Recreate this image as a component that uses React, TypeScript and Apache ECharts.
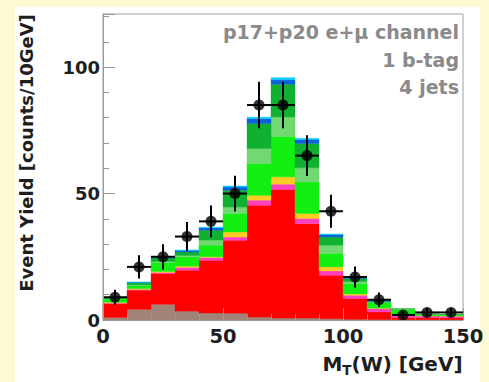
import React, { useEffect, useRef } from "react";
import * as echarts from "echarts";

const binCenters = [5, 15, 25, 35, 45, 55, 65, 75, 85, 95, 105, 115, 125, 135, 145];
const binWidth = 10;

const grayLayer = [1.0, 4.2, 6.2, 3.5, 2.8, 2.7, 1.2, 0.8, 0.8, 0.5, 0.3, 0.2, 0.1, 0.1, 0.1];
const redLayer = [5.5, 7.6, 12.2, 16.2, 20.8, 28.8, 44.2, 50.8, 37.3, 17.2, 8.2, 3.0, 0.9, 0.9, 0.8];
const pinkLayer = [0.2, 0.3, 0.4, 1.1, 1.1, 1.3, 2.0, 2.1, 2.0, 1.7, 1.3, 1.3, 0.9, 0.6, 0.6];
const yellowLayer = [0.3, 0.3, 0.4, 0.5, 0.3, 2.0, 1.9, 2.9, 2.0, 1.6, 0.5, 0.2, 0.2, 0.1, 0.1];
const brightGreenLayer = [1.3, 1.3, 3.5, 3.7, 4.6, 7.3, 12.6, 16.0, 12.5, 5.3, 4.1, 2.2, 2.0, 0.5, 0.4];
const paleGreenLayer = [0.2, 0.2, 0.4, 0.5, 2.0, 2.6, 5.9, 7.7, 5.6, 3.3, 0.8, 0.2, 0.2, 0.1, 0.1];
const darkGreenLayer = [0.3, 0.9, 1.4, 1.4, 3.9, 6.6, 9.9, 12.9, 9.6, 3.2, 1.2, 0.3, 0.2, 0.1, 0.1];
const blueLayer = [0.1, 0.1, 0.2, 0.6, 0.9, 1.3, 1.9, 1.8, 1.6, 1.0, 0.2, 0.1, 0.0, 0.0, 0.0];
const cyanLayer = [0.1, 0.1, 0.1, 0.2, 0.3, 0.4, 0.6, 0.8, 0.4, 0.2, 0.1, 0.0, 0.0, 0.0, 0.0];

const dataCounts = [9, 21, 25, 33, 39, 50, 85, 85, 65, 43, 17, 8, 2, 3, 3];

const xTickLabels = [0, 50, 100, 150];
const yTickLabels = [0, 50, 100];

const infoLines = ["p17+p20 e+\u03bc channel", "1 b-tag", "4 jets"];

const layers = [
  { name: "gray", values: grayLayer, color: "#a08478" },
  { name: "red", values: redLayer, color: "#ff0000" },
  { name: "pink", values: pinkLayer, color: "#ff3fbf" },
  { name: "yellow", values: yellowLayer, color: "#ffcc22" },
  { name: "brightGreen", values: brightGreenLayer, color: "#11f011" },
  { name: "paleGreen", values: paleGreenLayer, color: "#72d872" },
  { name: "darkGreen", values: darkGreenLayer, color: "#10b030" },
  { name: "blue", values: blueLayer, color: "#0a64d8" },
  { name: "cyan", values: cyanLayer, color: "#00ccff" },
];

const FONT = "DejaVu Sans";

export default function App() {
  const ref = useRef<HTMLDivElement>(null);
  useEffect(() => {
    if (!ref.current) return;
    const chart = echarts.init(ref.current, undefined, { renderer: "svg" });
    const cumulative = binCenters.map(() => 0);
    const layerSeries = layers.map((layer) => {
      const data = binCenters.map((c, i) => {
        const y0 = cumulative[i];
        const y1 = y0 + layer.values[i];
        cumulative[i] = y1;
        return [c - binWidth / 2, c + binWidth / 2, y0, y1];
      });
      return {
        type: "custom",
        name: layer.name,
        xAxisIndex: 0,
        yAxisIndex: 0,
        z: 2,
        encode: { x: [0, 1], y: [2, 3] },
        data,
        renderItem: (params: any, api: any) => {
          const x0 = api.value(0);
          const x1 = api.value(1);
          const y0 = api.value(2);
          const y1 = api.value(3);
          if (y1 - y0 <= 0) return null;
          const p0 = api.coord([x0, y1]);
          const p1 = api.coord([x1, y0]);
          return {
            type: "rect",
            shape: { x: p0[0], y: p0[1], width: p1[0] - p0[0], height: p1[1] - p0[1] },
            style: { fill: layer.color, stroke: layer.color, lineWidth: 0.4 },
          };
        },
      };
    });

    const errData = binCenters.map((c, i) => [c, dataCounts[i], Math.sqrt(dataCounts[i])]);

    const tickFmt = (list: number[]) => (v: number) => (list.indexOf(v) >= 0 ? String(v) : "");

    const option: any = {
      animation: false,
      grid: {
        left: 103,
        top: 14,
        width: 360,
        height: 306,
        show: true,
        borderColor: "#a0a0a0",
        borderWidth: 1,
        backgroundColor: "transparent",
      },
      xAxis: [
        {
          type: "value",
          min: 0,
          max: 150,
          interval: 10,
          position: "bottom",
          z: 10,
          axisLine: { show: true, lineStyle: { color: "#999", width: 1 } },
          axisTick: { show: true, inside: true, length: 6, lineStyle: { color: "#999" } },
          axisLabel: {
            formatter: tickFmt(xTickLabels),
            fontSize: 19.5,
            fontWeight: "bold",
            fontFamily: FONT,
            color: "#1e1e1e",
            margin: 6,
          },
          splitLine: { show: false },
        },
        {
          type: "value",
          min: 0,
          max: 150,
          interval: 50,
          position: "bottom",
          z: 10,
          axisLine: { show: false },
          axisTick: { show: true, inside: true, length: 12, lineStyle: { color: "#999" } },
          axisLabel: { show: false },
          splitLine: { show: false },
        },
      ],
      yAxis: [
        {
          type: "value",
          min: 0,
          max: 121,
          interval: 10,
          position: "left",
          z: 10,
          axisLine: { show: true, lineStyle: { color: "#999", width: 1 } },
          axisTick: { show: true, inside: true, length: 6, lineStyle: { color: "#999" } },
          axisLabel: {
            formatter: tickFmt(yTickLabels),
            fontSize: 18,
            fontWeight: "bold",
            fontFamily: FONT,
            color: "#1e1e1e",
            margin: 3,
          },
          splitLine: { show: false },
        },
        {
          type: "value",
          min: 0,
          max: 121,
          interval: 50,
          position: "left",
          z: 10,
          axisLine: { show: false },
          axisTick: { show: true, inside: true, length: 12, lineStyle: { color: "#999" } },
          axisLabel: { show: false },
          splitLine: { show: false },
        },
      ],
      series: [
        ...layerSeries,
        {
          type: "custom",
          name: "errors",
          xAxisIndex: 0,
          yAxisIndex: 0,
          z: 5,
          data: errData,
          encode: { x: 0, y: 1 },
          renderItem: (params: any, api: any) => {
            const x = api.value(0);
            const y = api.value(1);
            const e = api.value(2);
            const top = api.coord([x, y + e]);
            const bot = api.coord([x, Math.max(0, y - e)]);
            const l = api.coord([x - binWidth / 2, y]);
            const r = api.coord([x + binWidth / 2, y]);
            const st = { stroke: "#000", lineWidth: 2 };
            return {
              type: "group",
              children: [
                { type: "line", shape: { x1: top[0], y1: top[1], x2: bot[0], y2: bot[1] }, style: st },
                { type: "line", shape: { x1: l[0], y1: l[1], x2: r[0], y2: r[1] }, style: st },
              ],
            };
          },
        },
        {
          type: "scatter",
          name: "data",
          xAxisIndex: 0,
          yAxisIndex: 0,
          z: 6,
          symbol: "circle",
          symbolSize: 11,
          itemStyle: { color: "#000" },
          data: binCenters.map((c, i) => [c, dataCounts[i]]),
        },
      ],
      graphic: [
        {
          type: "text",
          x: 26,
          y: 153,
          rotation: Math.PI / 2,
          z: 100,
          style: {
            text: "Event Yield [counts/10GeV]",
            fontSize: 18,
            fontWeight: "bold",
            fontFamily: FONT,
            fill: "#1e1e1e",
            textAlign: "center",
            textVerticalAlign: "middle",
          },
        },
        {
          type: "text",
          x: 322.5,
          y: 364,
          z: 100,
          style: {
            text: "M",
            fontSize: 20,
            fontWeight: "bold",
            fontFamily: FONT,
            fill: "#1e1e1e",
            textAlign: "left",
            textVerticalAlign: "middle",
          },
        },
        {
          type: "text",
          x: 342.2,
          y: 370,
          z: 100,
          style: {
            text: "T",
            fontSize: 13.5,
            fontWeight: "bold",
            fontFamily: FONT,
            fill: "#1e1e1e",
            textAlign: "left",
            textVerticalAlign: "middle",
          },
        },
        {
          type: "text",
          x: 351.5,
          y: 364,
          z: 100,
          style: {
            text: "(W) [GeV]",
            fontSize: 20,
            fontWeight: "bold",
            fontFamily: FONT,
            fill: "#1e1e1e",
            textAlign: "left",
            textVerticalAlign: "middle",
          },
        },
        ...infoLines.map((t, i) => ({
          type: "text",
          x: 459,
          y: 32 + i * 27.5,
          z: 100,
          style: {
            text: t,
            fontSize: 19,
            fontWeight: "bold",
            fontFamily: FONT,
            fill: "#8a8a8a",
            textAlign: "right",
            textVerticalAlign: "middle",
          },
        })),
      ],
    };
    chart.setOption(option);
    return () => chart.dispose();
  }, []);

  return (
    <div style={{ position: "fixed", left: 0, top: 0, width: 489, height: 382, background: "#fcfbd2" }}>
      <div style={{ position: "absolute", left: 15, top: 7, width: 465, height: 375, background: "#ffffff" }} />
      <div ref={ref} style={{ position: "absolute", left: 0, top: 0, width: 489, height: 382 }} />
    </div>
  );
}
